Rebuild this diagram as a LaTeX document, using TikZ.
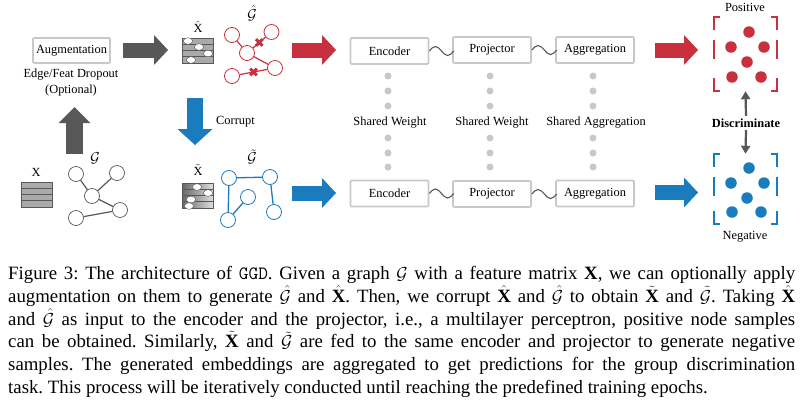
\documentclass[tikz,border=0pt]{standalone}
\usepackage{amsmath}
\usepackage{fontspec}
\setmainfont{Liberation Serif}
\usetikzlibrary{arrows.meta,calc}
\definecolor{myred}{RGB}{200,48,62}
\definecolor{myblue}{RGB}{26,123,189}
\definecolor{dgray}{RGB}{88,88,88}
\definecolor{lgray}{RGB}{200,200,200}
\definecolor{mgray}{RGB}{170,170,170}

\newcommand{\featmat}[1]{%
  \begin{scope}[shift={#1}]
    \fill[mgray] (0,0) rectangle (31,25);
    \foreach \yy in {6.25,12.5,18.75} \draw[dgray, line width=0.8pt] (0,\yy) -- (31,\yy);
    \draw[dgray, line width=0.9pt] (0,0) rectangle (31,25);
  \end{scope}}
\newcommand{\holes}[1]{%
  \foreach \hx/\hy in {#1} \draw[dgray, line width=0.4pt, fill=white] (\hx,\hy) ellipse [x radius=4.6pt, y radius=3.3pt];}

\begin{document}
\frenchspacing
\begin{tikzpicture}[x=1pt,y=-1pt,
  box/.style={draw=lgray, line width=1.6pt, rounded corners=1pt, minimum width=78pt, minimum height=26pt, inner sep=0pt, font=\fontsize{12.4}{14}\selectfont},
  lbl/.style={font=\fontsize{12.4}{14}\selectfont, inner sep=0pt},
  glbl/.style={font=\fontsize{14}{16}\selectfont, inner sep=0pt},
  fat/.style={line width=15pt, -{Triangle[length=14pt,width=30pt,line width=0pt]}},
  gnode/.style={circle, draw, fill=white, minimum size=15pt, inner sep=0pt, line width=0.8pt},
  sdot/.style={circle, fill=lgray, minimum size=7pt, inner sep=0pt},
  pdot/.style={circle, minimum size=11.5pt, inner sep=0pt},
  wave/.style={draw=dgray, line width=1.1pt},
  dis/.style={dgray, line width=2.2pt, -{Triangle[length=8pt,width=9pt]}},
]
\useasboundingbox (0,0) rectangle (800,405);

% ---------- augmentation ----------
\node[box, minimum width=77pt, minimum height=25pt] (aug) at (71.5,50.5) {Augmentation};
\node[lbl, align=center, font=\fontsize{12.4}{16}\selectfont] (augtxt) at (71,83) {Edge/Feat Dropout\\(Optional)};

\coordinate (ga1) at (123,50); \coordinate (ga2) at (168,50);
\draw[fat, dgray] (ga1) -- (ga2);
\coordinate (gu1) at (74.5,154); \coordinate (gu2) at (74.5,107);
\draw[dgray, line width=17pt, -{Triangle[length=16pt,width=32pt,line width=0pt]}] (gu1) -- (gu2);
\coordinate (bd1) at (195,98); \coordinate (bd2) at (195,145);
\draw[myblue, line width=16pt, -{Triangle[length=16pt,width=35pt,line width=0pt]}] (bd1) -- (bd2);
\node[lbl, anchor=west] (corrupt) at (216,122) {Corrupt};

% ---------- matrices ----------
\featmat{(21,182)}
\node[lbl] (xlab) at (36,172) {X};
\featmat{(182,38)}
\holes{188/41, 199/47, 208/53.5, 191/60}
\node[lbl] (xhlab) at (198,27) {$\hat{\text{X}}$};
\begin{scope}[shift={(182,183)}]
  \shade[left color=dgray!80!mgray, right color=lgray!60] (0,0) rectangle (31,25);
  \foreach \yy in {6.25,12.5,18.75} \draw[dgray, line width=0.8pt] (0,\yy) -- (31,\yy);
  \draw[dgray, line width=0.9pt] (0,0) rectangle (31,25);
\end{scope}
\holes{197/187, 208/193, 191/199.5, 189/206}
\node[lbl] (xtlab) at (198,170) {$\tilde{\text{X}}$};

% ---------- graphs ----------
\begin{scope}[every node/.style={gnode}]
\node[draw=dgray, line width=0.7pt] (g1) at (76,174) {};
\node[draw=dgray, line width=0.7pt] (g2) at (117,173) {};
\node[draw=dgray, line width=0.7pt] (g3) at (92,196) {};
\node[draw=dgray, line width=0.7pt] (g4) at (120,210) {};
\node[draw=dgray, line width=0.7pt] (g5) at (76,218) {};
\node[draw=myred] (h1) at (232,35) {};
\node[draw=myred] (h2) at (271.5,32) {};
\node[draw=myred] (h3) at (247,53) {};
\node[draw=myred] (h4) at (275,68) {};
\node[draw=myred] (h5) at (232,76) {};
\node[draw=myblue] (t1) at (229,178) {};
\node[draw=myblue] (t2) at (270,177) {};
\node[draw=myblue] (t3) at (248,197) {};
\node[draw=myblue] (t4) at (228,220) {};
\node[draw=myblue] (t5) at (274,212) {};
\end{scope}
\draw[dgray, line width=1.2pt] (g1) -- (g3) (g2) -- (g3) (g3) -- (g4) (g5) -- (g4);
\draw[myred, line width=1.2pt] (h1) -- (h3) (h3) -- (h2) (h3) -- (h4) (h5) -- (h4);
\draw[myblue, line width=1.3pt] (t1) -- (t2) (t1) -- (t4) (t4) -- (t3) (t2) -- (t5);
\coordinate (hx1) at ($(h3)!0.5!(h2)$);
\coordinate (hx2) at ($(h5)!0.5!(h4)$);
\foreach \m in {hx1,hx2}
  \draw[myred, line width=3pt] ($(\m)+(-3.3,-3.3)$) -- ($(\m)+(3.3,3.3)$) ($(\m)+(-3.3,3.3)$) -- ($(\m)+(3.3,-3.3)$);
\node[glbl] (glab) at (95,158) {$\mathcal{G}$};
\node[glbl] (ghlab) at (252,13) {$\hat{\mathcal{G}}$};
\node[glbl] (gtlab) at (252,157) {$\tilde{\mathcal{G}}$};

% ---------- arrows into encoders ----------
\coordinate (ra1) at (292,50); \coordinate (ra2) at (336,50);
\draw[fat, myred] (ra1) -- (ra2);
\coordinate (ba1) at (292,193); \coordinate (ba2) at (336,193);
\draw[fat, myblue] (ba1) -- (ba2);

% ---------- pipeline boxes ----------
\node[box] (encT) at (389.5,51) {Encoder};
\node[box] (proT) at (492,50) {Projector};
\node[box] (aggT) at (595,50) {Aggregation};
\node[box] (encB) at (389.5,193.5) {Encoder};
\node[box] (proB) at (492,194) {Projector};
\node[box] (aggB) at (595,193.5) {Aggregation};
\draw[wave] (encT.east) sin ++(6.1,-4.5) cos ++(6.1,4.5) sin ++(6.1,4.5) cos ++(6.1,-4.5);
\draw[wave] (proT.east) sin ++(6.25,-4.5) cos ++(6.25,4.5) sin ++(6.25,4.5) cos ++(6.25,-4.5);
\draw[wave] (encB.east) sin ++(6.1,-4.5) cos ++(6.1,4.5) sin ++(6.1,4.5) cos ++(6.1,-4.5);
\draw[wave] (proB.east) sin ++(6.25,-4.5) cos ++(6.25,4.5) sin ++(6.25,4.5) cos ++(6.25,-4.5);

\foreach \cx/\nm in {388/e, 490/p, 593/a} {
  \foreach \cy/\k in {76/1, 91/2, 106/3, 138/4, 153/5, 167/6}
    \node[sdot] (d\nm\k) at (\cx,\cy) {};
}
\node[lbl] (sw1) at (390,123) {Shared Weight};
\node[lbl] (sw2) at (492,123) {Shared Weight};
\node[lbl] (sa) at (596,123) {Shared Aggregation};

% ---------- output arrows ----------
\coordinate (ro1) at (655,50); \coordinate (ro2) at (698,50);
\draw[fat, myred] (ro1) -- (ro2);
\coordinate (bo1) at (655,192.5); \coordinate (bo2) at (698,192.5);
\draw[fat, myblue] (bo1) -- (bo2);

% ---------- positive / negative groups ----------
\node[inner sep=0pt, minimum width=63pt, minimum height=74pt] (pos) at (745.5,54) {};
\node[inner sep=0pt, minimum width=63pt, minimum height=70pt] (neg) at (745.5,189) {};
\draw[myred, line width=1.2pt]
  (720,17) -- (714,17) -- (714,30) (714,40) -- (714,59) (714,78) -- (714,91) -- (720,91)
  (771,17) -- (777,17) -- (777,30) (777,40) -- (777,59) (777,78) -- (777,91) -- (771,91);
\draw[myblue, line width=1.2pt]
  (720,154) -- (714,154) -- (714,167) (714,177) -- (714,196) (714,211) -- (714,224) -- (720,224)
  (771,154) -- (777,154) -- (777,167) (777,177) -- (777,196) (777,211) -- (777,224) -- (771,224);
\foreach \px/\py/\k in {749/32/1, 731/47/2, 764/47/3, 747/62/4, 732/77/5, 761/77/6}
  \node[pdot, fill=myred] (pd\k) at (\px,\py) {};
\foreach \px/\py/\k in {749/168/1, 731/183/2, 764/183/3, 747/198/4, 732/212/5, 761/212/6}
  \node[pdot, fill=myblue] (nd\k) at (\px,\py) {};
\node[lbl] (poslab) at (745,7) {Positive};
\node[lbl] (neglab) at (745,237) {Negative};
\node[lbl, font=\fontsize{12.4}{14}\selectfont\bfseries, inner sep=2.5pt] (disc) at (746,123) {Discriminate};
\draw[dis] (disc.north) -- (pos.south);
\draw[dis] (disc.south) -- (neg.north);

% ---------- caption ----------
\node[anchor=north west, inner sep=0pt, text width=787pt, align=justify,
      font=\fontsize{18.8}{22.8}\selectfont] (cap) at (8,266)
{\frenchspacing Figure 3: The architecture of \texttt{GGD}. Given a graph $\mathcal{G}$ with a feature matrix $\textbf{X}$, we can optionally apply\linebreak
augmentation on them to generate $\hat{\mathcal{G}}$ and $\hat{\textbf{X}}$. Then, we corrupt $\hat{\textbf{X}}$ and $\hat{\mathcal{G}}$ to obtain $\tilde{\textbf{X}}$ and $\tilde{\mathcal{G}}$. Taking $\hat{\textbf{X}}$\linebreak
and $\hat{\mathcal{G}}$ as input to the encoder and the projector, i.e., a multilayer perceptron, positive node samples\linebreak
can be obtained. Similarly, $\tilde{\textbf{X}}$ and $\tilde{\mathcal{G}}$ are fed to the same encoder and projector to generate negative\linebreak
samples. The generated embeddings are aggregated to get predictions for the group discrimination\linebreak
task. This process will be iteratively conducted until reaching the predefined training epochs.};
\end{tikzpicture}
\end{document}
